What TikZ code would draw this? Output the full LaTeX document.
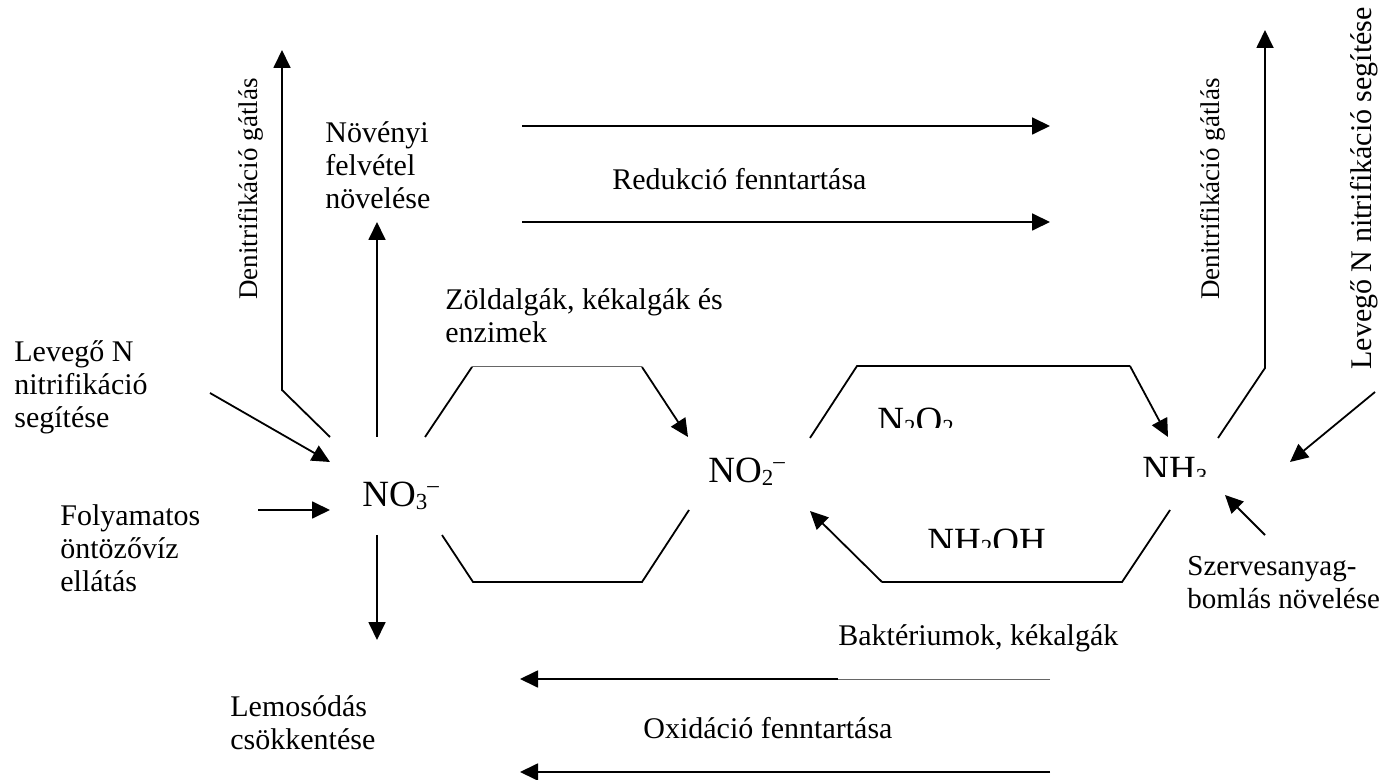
\documentclass[tikz,border=0pt]{standalone}
\usepackage{fontspec}
\setmainfont{Liberation Serif}
\usetikzlibrary{arrows.meta}
\newcommand\chsub[1]{\raisebox{-0.15ex}{\fontsize{11.5}{11.5}\selectfont #1}}
\newcommand\chsup[1]{\raisebox{0.85ex}{\fontsize{11.5}{11.5}\selectfont #1}}
\begin{document}
\begin{tikzpicture}[x=0.5pt,y=-0.5pt,
  ln/.style={line width=0.9pt},
  thinln/.style={line width=0.5pt,black!60},
  arr/.style={ln,-{Triangle[length=9pt,width=8.5pt]}},
  txt/.style={font=\fontsize{15}{16.5}\selectfont,align=left,inner sep=0pt,anchor=base west},
  rtxt/.style={font=\fontsize{13.5}{16.5}\selectfont,inner sep=0pt,anchor=base west,rotate=90},
  chem/.style={font=\fontsize{18.5}{20}\selectfont,inner sep=0pt,anchor=base west}]
\useasboundingbox (0,0) rectangle (1382,780);
% chemical species
\node[chem] (no3) at (362,507) {NO\chsub{3}\chsup{--}};
\node[chem] (no2) at (708,483) {NO\chsub{2}\chsup{--}};
\begin{scope}
  \clip (1130,440) rectangle (1230,477);
  \node[chem] (nh3) at (1142,482) {NH\chsub{3}};
\end{scope}
\begin{scope}
  \clip (860,395) rectangle (1000,428);
  \node[chem] (n2o2) at (877,433) {N\chsub{2}O\chsub{2}};
\end{scope}
\begin{scope}
  \clip (910,515) rectangle (1060,548);
  \node[chem] (nh2oh) at (927,553) {NH\chsub{2}OH};
\end{scope}
% texts (anchor = baseline of the last line)
\node[txt] (lev1) at (14,428) {Levegő N\\nitrifikáció\\segítése};
\node[txt] (foly) at (60,591) {Folyamatos\\öntözővíz\\ellátás};
\node[txt] (nov) at (325,209) {Növényi\\felvétel\\növelése};
\node[txt] (zold) at (445,343) {Zöldalgák, kékalgák és\\enzimek};
\node[txt] (red) at (612,190) {Redukció fenntartása};
\node[txt] (bakt) at (838,646) {Baktériumok, kékalgák};
\node[txt] (oxi) at (643,738) {Oxidáció fenntartása};
\node[txt] (lemo) at (230,749) {Lemosódás\\csökkentése};
\node[txt,font=\fontsize{14.5}{16.5}\selectfont] (szerv) at (1187,608) {Szervesanyag-\\bomlás növelése};
\node[rtxt] (den1) at (257,300) {Denitrifikáció gátlás};
\node[rtxt] (den2) at (1219,300) {Denitrifikáció gátlás};
\node[rtxt,font=\fontsize{15}{16.5}\selectfont] (lev2) at (1371,370) {Levegő N nitrifikáció segítése};
% coordinates
\coordinate (a1) at (425,437); \coordinate (a2) at (472,367);
\coordinate (a3) at (642,367); \coordinate (a4) at (688,437);
\coordinate (b1) at (442,535); \coordinate (b2) at (473,582);
\coordinate (b3) at (642,582); \coordinate (b4) at (689,510);
\coordinate (c1) at (810,438); \coordinate (c2) at (857,366);
\coordinate (c3) at (1130,366); \coordinate (c4) at (1168,437);
\coordinate (d1) at (1170,510); \coordinate (d2) at (1122,582);
\coordinate (d3) at (882,582); \coordinate (d4) at (810,511);
\coordinate (e1) at (330,437); \coordinate (e2) at (282,390); \coordinate (e3) at (282,50);
\coordinate (f1) at (377,437); \coordinate (f2) at (377,222);
\coordinate (g1) at (210,393); \coordinate (g2) at (330,462);
\coordinate (h1) at (258,510); \coordinate (h2) at (330,510);
\coordinate (i1) at (377,535); \coordinate (i2) at (377,640);
\coordinate (j1) at (1218,438); \coordinate (j2) at (1265,368); \coordinate (j3) at (1265,30);
\coordinate (k1) at (1375,392); \coordinate (k2) at (1290,462);
\coordinate (l1) at (1265,535); \coordinate (l2) at (1225,495);
\coordinate (r1) at (522,126); \coordinate (r2) at (1050,126);
\coordinate (r3) at (522,222); \coordinate (r4) at (1050,222);
\coordinate (o1) at (1050,679); \coordinate (o2) at (838,679); \coordinate (o3) at (520,679);
\coordinate (o4) at (1050,772); \coordinate (o5) at (520,772);
% connectors
\draw[ln] (a1) -- (a2);
\draw[thinln] (a2) -- (a3);
\draw[arr] (a3) -- (a4);
\draw[ln] (b1) -- (b2) -- (b3) -- (b4);
\draw[ln] (c1) -- (c2) -- (c3);
\draw[arr] (c3) -- (c4);
\draw[ln] (d1) -- (d2) -- (d3);
\draw[arr] (d3) -- (d4);
\draw[arr] (e1) -- (e2) -- (e3);
\draw[arr] (f1) -- (f2);
\draw[arr] (g1) -- (g2);
\draw[arr] (h1) -- (h2);
\draw[arr] (i1) -- (i2);
\draw[arr] (j1) -- (j2) -- (j3);
\draw[arr] (k1) -- (k2);
\draw[arr] (l1) -- (l2);
\draw[arr] (r1) -- (r2);
\draw[arr] (r3) -- (r4);
\draw[thinln] (o1) -- (o2);
\draw[arr] (o2) -- (o3);
\draw[arr] (o4) -- (o5);
\end{tikzpicture}
\end{document}
